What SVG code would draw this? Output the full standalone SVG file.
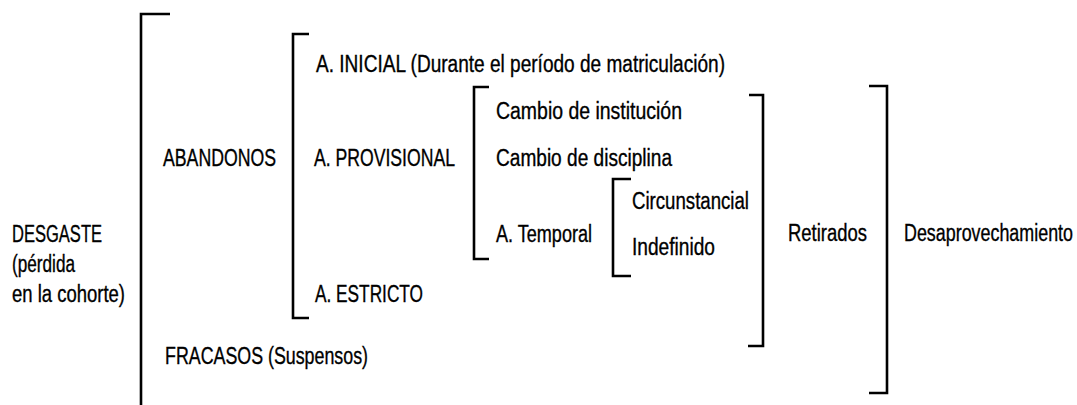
<svg xmlns="http://www.w3.org/2000/svg" width="1077" height="405" viewBox="0 0 1077 405">
<style>
.t{font-family:"Liberation Sans",Arial,Helvetica,sans-serif;font-size:23.5px;fill:#000;stroke:#000;stroke-width:0.35;}
.b{fill:none;stroke:#000;stroke-width:2.6;stroke-linejoin:miter;stroke-linecap:butt;}
</style>
<rect x="0" y="0" width="1077" height="405" fill="#fff"/>
<g id="connectors">
<path class="b" d="M170,14 H141 V405"/>
<path class="b" d="M309,34 H293 V318 H309"/>
<path class="b" d="M489,87 H474 V259 H489"/>
<path class="b" d="M631,179 H613 V276 H631"/>
<path class="b" d="M749,95 H763 V346 H748"/>
<path class="b" d="M869,86 H887 V393 H869"/>
</g>
<g id="desgaste">
<text class="t" x="12" y="242" textLength="90" lengthAdjust="spacingAndGlyphs">DESGASTE</text>
<text class="t" x="12" y="272" textLength="63" lengthAdjust="spacingAndGlyphs">(pérdida</text>
<text class="t" x="12" y="302" textLength="113" lengthAdjust="spacingAndGlyphs">en la cohorte)</text>
</g>
<g id="abandonos"><text class="t" x="163" y="166" textLength="113" lengthAdjust="spacingAndGlyphs">ABANDONOS</text></g>
<g id="fracasos"><text class="t" x="165" y="364" textLength="203" lengthAdjust="spacingAndGlyphs">FRACASOS (Suspensos)</text></g>
<g id="a-inicial"><text class="t" x="316" y="72" textLength="409" lengthAdjust="spacingAndGlyphs">A. INICIAL (Durante el período de matriculación)</text></g>
<g id="a-provisional"><text class="t" x="314" y="166" textLength="141" lengthAdjust="spacingAndGlyphs">A. PROVISIONAL</text></g>
<g id="a-estricto"><text class="t" x="315" y="302" textLength="108" lengthAdjust="spacingAndGlyphs">A. ESTRICTO</text></g>
<g id="cambio-institucion"><text class="t" x="496" y="119" textLength="186" lengthAdjust="spacingAndGlyphs">Cambio de institución</text></g>
<g id="cambio-disciplina"><text class="t" x="496" y="166" textLength="176" lengthAdjust="spacingAndGlyphs">Cambio de disciplina</text></g>
<g id="a-temporal"><text class="t" x="496" y="242" textLength="96" lengthAdjust="spacingAndGlyphs">A. Temporal</text></g>
<g id="circunstancial"><text class="t" x="632" y="209" textLength="117" lengthAdjust="spacingAndGlyphs">Circunstancial</text></g>
<g id="indefinido"><text class="t" x="632" y="255" textLength="83" lengthAdjust="spacingAndGlyphs">Indefinido</text></g>
<g id="retirados"><text class="t" x="788" y="241" textLength="79" lengthAdjust="spacingAndGlyphs">Retirados</text></g>
<g id="desaprovechamiento"><text class="t" x="904" y="241" textLength="169" lengthAdjust="spacingAndGlyphs">Desaprovechamiento</text></g>
</svg>
